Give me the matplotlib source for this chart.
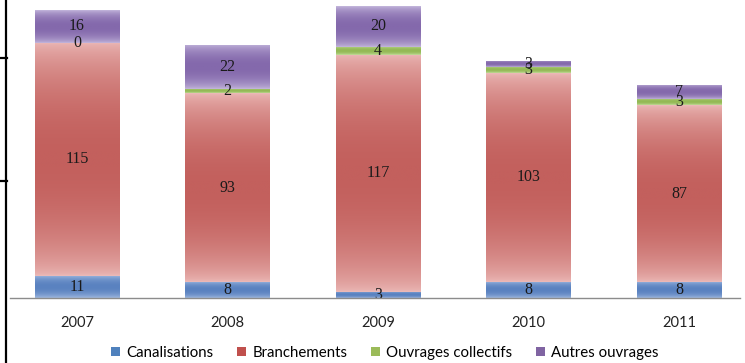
import numpy as np
import matplotlib
matplotlib.use('Agg')
import matplotlib.pyplot as plt
from matplotlib.colors import LinearSegmentedColormap
from matplotlib.lines import Line2D

annees = ['2007', '2008', '2009', '2010', '2011']
canalisations = [11, 8, 3, 8, 8]
branchements = [115, 93, 117, 103, 87]
ouvrages_collectifs = [0, 2, 4, 3, 3]
autres_ouvrages = [16, 22, 20, 3, 7]

series = [
    ('Canalisations', canalisations, '#4f81bd', '#5a82c0', '#adc3e6'),
    ('Branchements', branchements, '#c0504d', '#c3605d', '#edbcba'),
    ('Ouvrages collectifs', ouvrages_collectifs, '#9bbb59', '#93b955', '#cde3aa'),
    ('Autres ouvrages', autres_ouvrages, '#8064a2', '#8469ac', '#c9bde0'),
]

fig = plt.figure(figsize=(7.45, 3.63), dpi=100)
ax = fig.add_axes([10 / 745, 65 / 363, 730 / 745, 298 / 363])

x = np.arange(len(annees))
bottom = np.zeros(len(annees))
t = np.linspace(0, 1, 600)
profil = np.sin(np.pi * t) ** 0.6

for nom, vals, couleur, fonce, clair in series:
    bars = ax.bar(x, vals, width=0.56, bottom=bottom, color=couleur, label=nom, zorder=2)
    cmap = LinearSegmentedColormap.from_list(nom, [clair, fonce])
    for b in bars:
        h = b.get_height()
        if h <= 0:
            continue
        x0, y0, w = b.get_x(), b.get_y(), b.get_width()
        img = ax.imshow(profil[:, None], cmap=cmap, vmin=0, vmax=1, aspect='auto',
                        interpolation='bilinear', extent=(x0, x0 + w, y0, y0 + h),
                        origin='lower', zorder=3)
        img.set_clip_path(b)
    ax.bar_label(bars, label_type='center', fontsize=11.5, family='Liberation Serif',
                 color='#1a1a1a', zorder=5)
    bottom += np.array(vals)

ax.set_xlim(-0.445, -0.445 + 730 / 150.5)
ax.set_ylim(0, 147)
ax.set_xticks(x)
ax.set_xticklabels(annees, fontsize=10.5, family='Lato', color='#222222')
ax.tick_params(axis='x', length=0, pad=13)
ax.set_yticks([])
for s in ['top', 'right', 'left']:
    ax.spines[s].set_visible(False)
ax.spines['bottom'].set_color('#8c8c8c')
ax.spines['bottom'].set_linewidth(1)
ax.spines['bottom'].set_zorder(6)

fig.legend(loc='center', bbox_to_anchor=(385 / 745, 1 - 353 / 363), ncol=4, frameon=False,
           handlelength=0.6, handleheight=0.6, handletextpad=0.4, columnspacing=1.6,
           prop={'family': 'Lato', 'size': 10.8})

# bord noir à gauche
fig.add_artist(Line2D([6 / 745, 6 / 745], [0, 1], color='black', lw=1.6))
for yy in [58, 181]:
    fig.add_artist(Line2D([0, 7 / 745], [1 - yy / 363, 1 - yy / 363], color='black', lw=1.6))

fig.savefig('out.png', dpi=100)
